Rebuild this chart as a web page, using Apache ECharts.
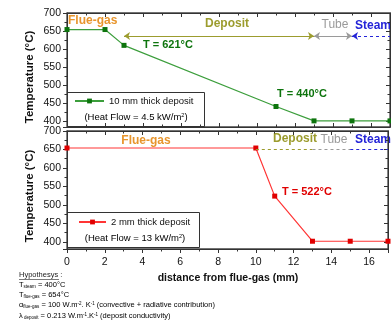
<!DOCTYPE html>
<html>
<head>
<meta charset="utf-8">
<script src="https://cdn.jsdelivr.net/npm/echarts@6/dist/echarts.min.js"></script>
<style>
html,body{margin:0;padding:0;background:#fff}
#chart{width:391px;height:331px}
</style>
</head>
<body>
<div id="chart"></div>
<script>
// 10 mm deposit (top panel)
var thickDist = [0, 2, 3, 11, 13, 15, 17];
var thickTemp = [654, 654, 610, 440, 400, 400, 400];
// 2 mm deposit (bottom panel)
var thinDist = [0, 10, 11, 13, 15, 17];
var thinTemp = [654, 654, 524, 402, 402, 402];
// zone limits along the distance axis
var topZones = [3, 13, 15, 17];
var bottomZones = [10, 13, 15, 17];
var topArrowY = 636;
var bottomArrowY = 652;

var FONT = 'Liberation Sans, Arial, sans-serif';
var OLIVE = '#9c9c2e', GRAYC = '#9a9a9a', BLUE = '#2424d8', ORANGE = '#e8952c';
var GREEN = '#3c9e3c', GREEN_D = '#0d740d', RED = '#ff3535', RED_D = '#e00000';

function pairs(xs, ys) {
	return xs.map(function (x, i) { return [x, ys[i]]; });
}

// x axis builder, pos = bottom / top
function xAx(grid, pos, labels) {
	return {
		type: 'value', gridIndex: grid, position: pos, min: 0, max: 17, interval: 2,
		axisLine: {show: true, onZero: false, lineStyle: {color: '#333', width: 1}},
		axisTick: {show: true, inside: !labels, length: 4, lineStyle: {color: '#333'}},
		minorTick: {show: true, splitNumber: 2, length: 2.5, lineStyle: {color: '#333'}},
		axisLabel: {
			show: labels, color: '#111', fontSize: 10.5, fontFamily: FONT, margin: 8,
			formatter: function (v) { return v % 2 === 0 ? String(v) : ''; }
		},
		splitLine: {show: false}, minorSplitLine: {show: false}
	};
}
function yAx(grid, pos, min, labels) {
	return {
		type: 'value', gridIndex: grid, position: pos, min: min, max: 700, splitNumber: 6,
		axisLine: {show: true, onZero: false, lineStyle: {color: '#333', width: 1}},
		axisTick: {show: true, inside: !labels, length: 4, lineStyle: {color: '#333'}},
		minorTick: {show: true, splitNumber: 2, length: 2.5, lineStyle: {color: '#333'}},
		axisLabel: {
			show: labels, color: '#111', fontSize: 10.5, fontFamily: FONT, margin: 6,
			formatter: function (v) { return v % 50 === 0 ? String(v) : ''; }
		},
		splitLine: {show: false}, minorSplitLine: {show: false}
	};
}

function zoneLine(x0, x1, y, color, dashed, syms) {
	return [
		{coord: [x0, y], symbol: syms[0], lineStyle: {color: color, width: 1.2, type: dashed ? [3, 3] : 'solid'}},
		{coord: [x1, y], symbol: syms[1]}
	];
}

function txt(x, y, s, color, size, align, bold) {
	return {
		type: 'text', silent: true,
		style: {
			text: s, x: x, y: y, fill: color,
			font: (bold ? 'bold ' : '') + size + 'px ' + FONT,
			textAlign: align || 'left', textVerticalAlign: 'middle'
		}
	};
}

var hypRich = {
	m: {fontSize: 7.5, fontFamily: FONT, color: '#222', verticalAlign: 'bottom'},
	s: {fontSize: 4.5, fontFamily: FONT, color: '#222', verticalAlign: 'bottom'},
	p: {fontSize: 4.5, fontFamily: FONT, color: '#222', verticalAlign: 'top'}
};
function hyp(y, s) {
	return {
		type: 'text', silent: true,
		style: {text: s, x: 19, y: y, rich: hypRich, textVerticalAlign: 'middle'}
	};
}

var chart = echarts.init(document.getElementById('chart'));
chart.setOption({
	animation: false,
	backgroundColor: '#fff',
	grid: [
		{left: 67, right: 1, top: 13, height: 114, show: true, borderColor: '#444', borderWidth: 1.3},
		{left: 67, right: 1, top: 131, height: 118, show: true, borderColor: '#444', borderWidth: 1.3}
	],
	xAxis: [xAx(0, 'bottom', false), xAx(0, 'top', false), xAx(1, 'bottom', true), xAx(1, 'top', false)],
	yAxis: [yAx(0, 'left', 383, true), yAx(0, 'right', 383, false), yAx(1, 'left', 381, true), yAx(1, 'right', 381, false)],
	legend: [
		{
			data: ['10 mm thick deposit'], left: 74, top: 96, padding: 0,
			itemWidth: 29, itemHeight: 6,
			textStyle: {fontSize: 9.5, fontFamily: FONT, color: '#111'}
		},
		{
			data: ['2 mm thick deposit'], left: 78, top: 217, padding: 0,
			itemWidth: 27, itemHeight: 6,
			textStyle: {fontSize: 9.5, fontFamily: FONT, color: '#111'}
		}
	],
	series: [
		{
			name: '10 mm thick deposit', type: 'line', xAxisIndex: 0, yAxisIndex: 0,
			data: pairs(thickDist, thickTemp), symbol: 'rect', symbolSize: 5,
			lineStyle: {color: GREEN, width: 1.2}, itemStyle: {color: GREEN_D},
			markLine: {
				silent: true, symbolSize: 6, label: {show: false},
				data: [
					zoneLine(topZones[0], topZones[1], topArrowY, OLIVE, false, ['arrow', 'arrow']),
					zoneLine(topZones[1], topZones[2], topArrowY, GRAYC, false, ['arrow', 'arrow']),
					zoneLine(topZones[2], topZones[3], topArrowY, BLUE, true, ['arrow', 'none'])
				]
			}
		},
		{
			name: '2 mm thick deposit', type: 'line', xAxisIndex: 2, yAxisIndex: 2,
			data: pairs(thinDist, thinTemp), symbol: 'rect', symbolSize: 5,
			lineStyle: {color: RED, width: 1.2}, itemStyle: {color: RED_D},
			markLine: {
				silent: true, symbol: 'none', label: {show: false},
				data: [
					zoneLine(bottomZones[0], bottomZones[1], bottomArrowY, OLIVE, true, ['none', 'none']),
					zoneLine(bottomZones[1], bottomZones[2], bottomArrowY, GRAYC, true, ['none', 'none']),
					zoneLine(bottomZones[2], bottomZones[3], bottomArrowY, BLUE, true, ['none', 'none'])
				]
			}
		}
	],
	graphic: [
		// legend boxes
		{type: 'rect', shape: {x: 67.5, y: 92.5, width: 137, height: 34}, style: {fill: 'none', stroke: '#333', lineWidth: 1}, silent: true},
		{type: 'rect', shape: {x: 67.5, y: 212.5, width: 132, height: 35}, style: {fill: 'none', stroke: '#333', lineWidth: 1}, silent: true},
		{
			type: 'text', silent: true,
			style: {
				text: '{m|(Heat Flow = 4.5 kW/m}{p|2}{m|)}', x: 136, y: 117, textAlign: 'center', textVerticalAlign: 'middle',
				rich: {m: {fontSize: 9.5, fontFamily: FONT, color: '#111', verticalAlign: 'bottom'}, p: {fontSize: 5.5, fontFamily: FONT, color: '#111', verticalAlign: 'top'}}
			}
		},
		{
			type: 'text', silent: true,
			style: {
				text: '{m|(Heat Flow = 13 kW/m}{p|2}{m|)}', x: 135, y: 238, textAlign: 'center', textVerticalAlign: 'middle',
				rich: {m: {fontSize: 9.5, fontFamily: FONT, color: '#111', verticalAlign: 'bottom'}, p: {fontSize: 5.5, fontFamily: FONT, color: '#111', verticalAlign: 'top'}}
			}
		},
		// zone names, top panel
		txt(68, 21, 'Flue-gas', ORANGE, 12, 'left', true),
		txt(227, 24, 'Deposit', OLIVE, 12, 'center', true),
		txt(335, 25, 'Tube', GRAYC, 12, 'center', false),
		txt(355, 26, 'Steam', BLUE, 12, 'left', true),
		// zone names, bottom panel
		txt(146, 141, 'Flue-gas', ORANGE, 12, 'center', true),
		txt(295, 139, 'Deposit', OLIVE, 12, 'center', true),
		txt(334, 140, 'Tube', GRAYC, 12, 'center', false),
		txt(355, 140, 'Steam', BLUE, 12, 'left', true),
		// temperature callouts
		txt(143, 45, 'T = 621°C', GREEN_D, 11, 'left', true),
		txt(277, 94, 'T = 440°C', GREEN_D, 11, 'left', true),
		txt(282, 192, 'T = 522°C', RED_D, 11, 'left', true),
		// axis titles
		{
			type: 'text', silent: true, x: 30, y: 77, rotation: Math.PI / 2,
			style: {text: 'Temperature (°C)', font: 'bold 11.5px ' + FONT, fill: '#111', textAlign: 'center', textVerticalAlign: 'middle'}
		},
		{
			type: 'text', silent: true, x: 30, y: 196, rotation: Math.PI / 2,
			style: {text: 'Temperature (°C)', font: 'bold 11.5px ' + FONT, fill: '#111', textAlign: 'center', textVerticalAlign: 'middle'}
		},
		txt(228, 278, 'distance from flue-gas (mm)', '#111', 10.5, 'center', true),
		// hypothesis block
		txt(19, 275, 'Hypothesys :', '#222', 7.5, 'left', false),
		{type: 'line', shape: {x1: 19, y1: 279.5, x2: 59, y2: 279.5}, style: {stroke: '#222', lineWidth: 0.6}, silent: true},
		hyp(285, '{m|T}{s|steam}{m| = 400°C}'),
		hyp(295, '{m|T}{s|flue-gas}{m| = 654°C}'),
		hyp(305, '{m|α}{s|flue-gas}{m| = 100 W.m}{p|-2}{m|. K}{p|-1}{m| (convective + radiative contribution)}'),
		hyp(316, '{m|λ}{s| deposit}{m| = 0.213 W.m}{p|-1}{m|.K}{p|-1}{m| (deposit conductivity)}')
	]
});
</script>
</body>
</html>
